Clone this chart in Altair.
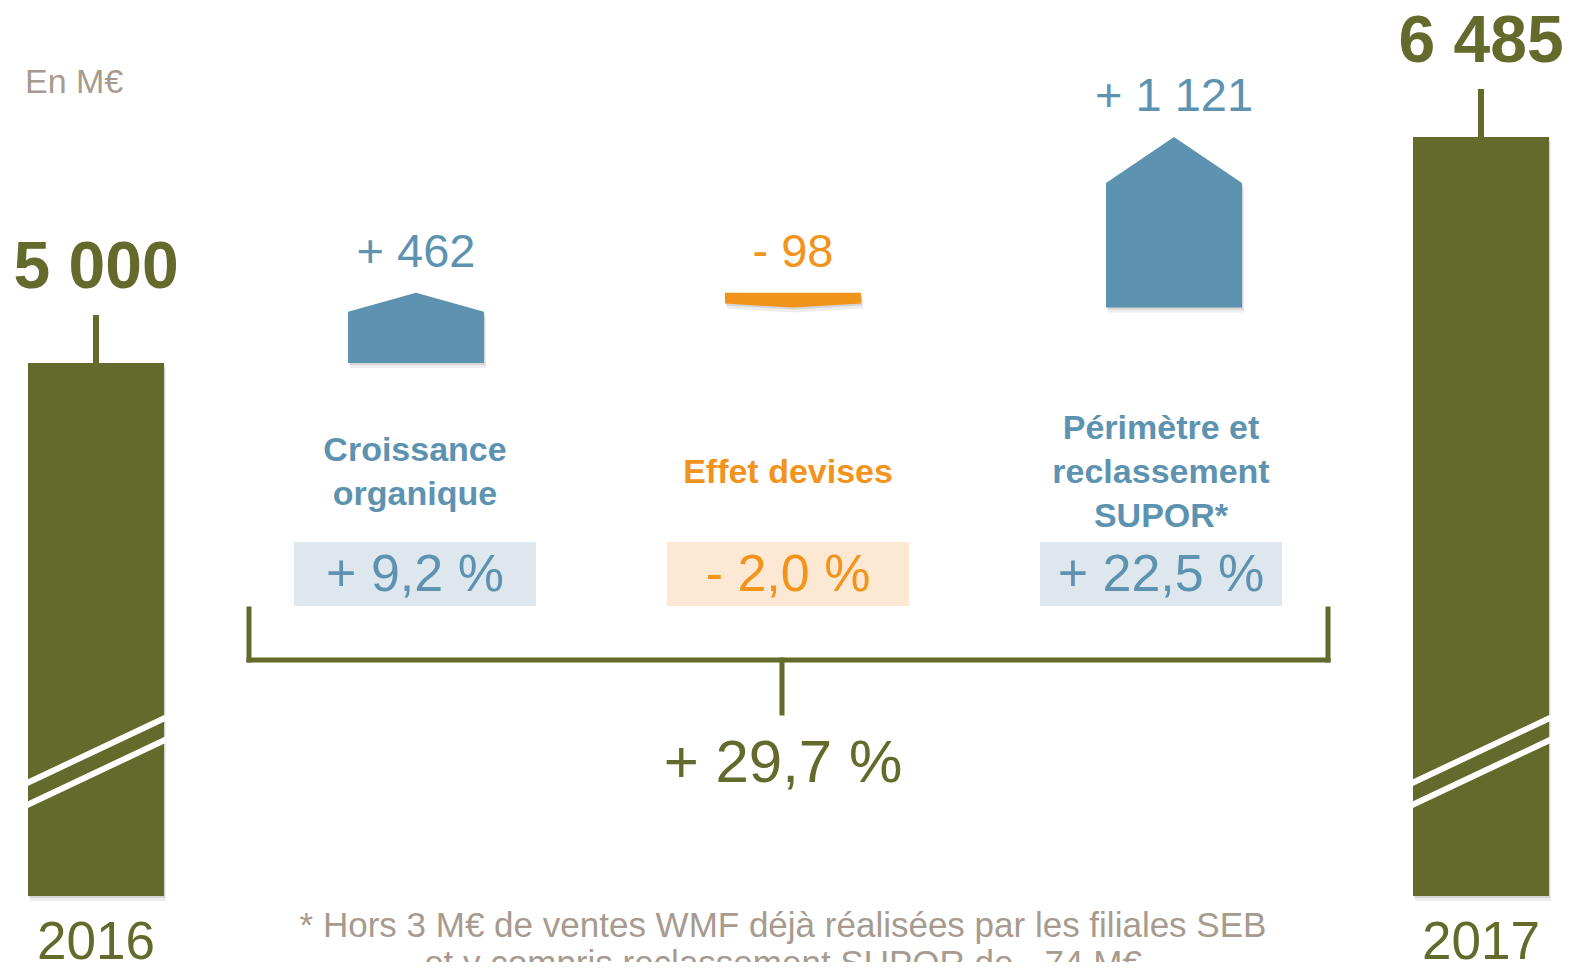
import altair as alt
import pandas as pd

# ---------------- data ----------------
years = ["2016", "2017"]
year_totals = [5000, 6485]
effects = ["Croissance\norganique", "Effet devises", "Périmètre et\nreclassement\nSUPOR*"]
effect_values = [462, -98, 1121]
effect_pcts = [9.2, -2.0, 22.5]
total_pct = 29.7
unit_label = "En M€"
footnote_lines = [
    "* Hors 3 M€ de ventes WMF déjà réalisées par les filiales SEB",
    "et y compris reclassement  SUPOR de - 74 M€",
]

# ---------------- layout / style ----------------
M = 8
W, H = 1559, 954
OLIVE = "#636A2B"
BLUE = "#5D93B0"
ORANGE = "#F2931B"
BLUE_BG = "#DFE7EE"
ORANGE_BG = "#FCE8D3"
GRAY = "#A69B8E"
FONT = "Liberation Sans"

YEAR_X = [96, 1481]
EFFECT_X = [416, 793, 1174]
LABEL_X = [415, 788, 1161]
BAR_W = 136
BOX_W = 242
TIP = 0.27
PX_LOW, PX_HIGH = 363, 137  # pixel rows of the two totals
LABEL_MID, LABEL_LH = 471, 44


def fmt_int(v):
    return f"{abs(v):,}".replace(",", " ")


def fmt_signed(v):
    return ("+ " if v >= 0 else "- ") + fmt_int(v)


def fmt_pct(p):
    return ("+ " if p >= 0 else "- ") + f"{abs(p):.1f}".replace(".", ",") + " %"


s = (PX_LOW - PX_HIGH) / (year_totals[1] - year_totals[0])


def val_at(py):
    return year_totals[0] + (PX_LOW - py) / s


xs = alt.Scale(domain=[M, M + W], nice=False, zero=False)
ys = alt.Scale(domain=[val_at(M + H), val_at(M)], nice=False, zero=False)


def X(f):
    return alt.X(f, type="quantitative", scale=xs, axis=None)


def Y(f):
    return alt.Y(f, type="quantitative", scale=ys, axis=None, stack=None)


def C(f):
    return alt.Color(f, type="nominal", scale=None, legend=None)


FG = {"up": BLUE, "down": ORANGE}
BG = {"up": BLUE_BG, "down": ORANGE_BG}

# ---------------- tables ----------------
tot = pd.DataFrame({"label": years, "value": year_totals, "xc": YEAR_X})
tot["x0"] = tot.xc - BAR_W / 2
tot["x1"] = tot.xc + BAR_W / 2
tot["base"] = val_at(896)
tot["txt"] = tot.value.map(fmt_int)

brk_rows = []
for xc in YEAR_X:
    for i in range(2):
        brk_rows.append({
            "x0": xc - BAR_W / 2 - 3, "x1": xc + BAR_W / 2 + 3,
            "yl": val_at(784 + 22 * i), "yr": val_at(717 + 22 * i),
        })
brk = pd.DataFrame(brk_rows)

blk_rows, lab_rows, line_rows = [], [], []
start = year_totals[0]
for name, v, p, xc, lx in zip(effects, effect_values, effect_pcts, EFFECT_X, LABEL_X):
    end = start + v
    kind = "up" if v >= 0 else "down"
    shoulder = end - TIP * v
    if v >= 0:
        pts = [(xc - BAR_W / 2, shoulder, start), (xc, end, start), (xc + BAR_W / 2, shoulder, start)]
    else:
        pts = [(xc - BAR_W / 2, start, shoulder), (xc, start, end), (xc + BAR_W / 2, start, shoulder)]
    for xx, yy, yy2 in pts:
        blk_rows.append({"name": name, "fg": FG[kind], "x": xx, "y": yy, "y2": yy2})
    lab_rows.append({
        "name": name, "fg": FG[kind], "bg": BG[kind], "xc": xc, "lx": lx,
        "top": max(start, end), "txt": fmt_signed(v), "pct": fmt_pct(p),
        "bx0": lx - BOX_W / 2, "bx1": lx + BOX_W / 2,
    })
    lines = name.split("\n")
    n = len(lines)
    for i, ln in enumerate(lines):
        base_px = LABEL_MID + 12 + (i - (n - 1) / 2) * LABEL_LH
        line_rows.append({"t": ln, "fg": FG[kind], "lx": lx, "y": val_at(base_px)})
    start = end
blk = pd.DataFrame(blk_rows)
lab = pd.DataFrame(lab_rows)
lines_df = pd.DataFrame(line_rows)

bracket = pd.DataFrame({
    "x": [249, 249, 1328, 782],
    "x2": [1328, 249, 1328, 782],
    "y": [val_at(660), val_at(609), val_at(609), val_at(660)],
    "y2": [val_at(660), val_at(660), val_at(660), val_at(713)],
})

layers = []

# shadows
for dx, dy, op in [(1, 2, 0.10), (2, 5, 0.07)]:
    layers.append(
        alt.Chart(tot).mark_rect(color="#000", opacity=op, xOffset=dx, x2Offset=dx,
                                 yOffset=dy, y2Offset=dy)
        .encode(x=X("x0"), x2="x1", y=Y("value"), y2="base")
    )
    layers.append(
        alt.Chart(blk).mark_area(color="#000", opacity=op, orient="vertical",
                                 xOffset=dx, yOffset=dy, y2Offset=dy)
        .encode(x=X("x"), y=Y("y"), y2="y2", detail="name:N")
    )

# total bars
layers.append(
    alt.Chart(tot).mark_rect(color=OLIVE)
    .encode(x=X("x0"), x2="x1", y=Y("value"), y2="base")
)
# break marks
layers.append(
    alt.Chart(brk).mark_rule(color="white", strokeWidth=6)
    .encode(x=X("x0"), x2="x1", y=Y("yl"), y2="yr")
)
# stems
layers.append(
    alt.Chart(tot).mark_rule(color=OLIVE, strokeWidth=6, y2Offset=-48)
    .encode(x=X("xc"), y=Y("value"), y2="value")
)
# total labels
layers.append(
    alt.Chart(tot).mark_text(font=FONT, fontSize=66, fontWeight="bold", color=OLIVE,
                             baseline="alphabetic", dy=-75)
    .encode(x=X("xc"), y=Y("value"), text="txt")
)
# year labels
layers.append(
    alt.Chart(tot).mark_text(font=FONT, fontSize=53, color=OLIVE, baseline="alphabetic")
    .encode(x=X("xc"), y=alt.value(959 - M), text="label")
)

# effect blocks
layers.append(
    alt.Chart(blk).mark_area(orient="vertical", interpolate="linear")
    .encode(x=X("x"), y=Y("y"), y2="y2", detail="name:N", color=C("fg"))
)
# effect value labels
layers.append(
    alt.Chart(lab).mark_text(font=FONT, fontSize=47, baseline="alphabetic", dy=-26)
    .encode(x=X("xc"), y=Y("top"), text="txt", color=C("fg"))
)
# category labels
layers.append(
    alt.Chart(lines_df).mark_text(font=FONT, fontSize=34, fontWeight="bold", baseline="alphabetic")
    .encode(x=X("lx"), y=Y("y"), text="t", color=C("fg"))
)
# percent boxes
layers.append(
    alt.Chart(lab).mark_rect()
    .encode(x=X("bx0"), x2="bx1", y=alt.value(542 - M), y2=alt.value(606 - M), color=C("bg"))
)
layers.append(
    alt.Chart(lab).mark_text(font=FONT, fontSize=52, baseline="alphabetic")
    .encode(x=X("lx"), y=alt.value(591 - M), text="pct", color=C("fg"))
)
# bracket
layers.append(
    alt.Chart(bracket).mark_rule(color=OLIVE, strokeWidth=5, strokeCap="square")
    .encode(x=X("x"), x2="x2", y=Y("y"), y2="y2")
)
# total growth
layers.append(
    alt.Chart(pd.DataFrame({"x": [783], "t": [fmt_pct(total_pct)]}))
    .mark_text(font=FONT, fontSize=60, color=OLIVE, baseline="alphabetic")
    .encode(x=X("x"), y=alt.value(782 - M), text="t")
)
# unit label
layers.append(
    alt.Chart(pd.DataFrame({"x": [25], "t": [unit_label]}))
    .mark_text(font=FONT, fontSize=34, color=GRAY, baseline="alphabetic", align="left")
    .encode(x=X("x"), y=alt.value(93 - M), text="t")
)
# footnote
layers.append(
    alt.Chart(pd.DataFrame({"x": [783], "t": ["\n".join(footnote_lines)]}))
    .mark_text(font=FONT, fontSize=35, color=GRAY, baseline="alphabetic",
               lineBreak="\n", lineHeight=38)
    .encode(x=X("x"), y=alt.value(937 - M), text="t")
)

chart = (
    alt.layer(*layers)
    .properties(width=W, height=H, padding=0,
                autosize=alt.AutoSizeParams(type="none"),
                background="white")
    .configure_view(stroke=None)
)

chart.save("out.html", embed_options={"renderer": "svg", "actions": False})
